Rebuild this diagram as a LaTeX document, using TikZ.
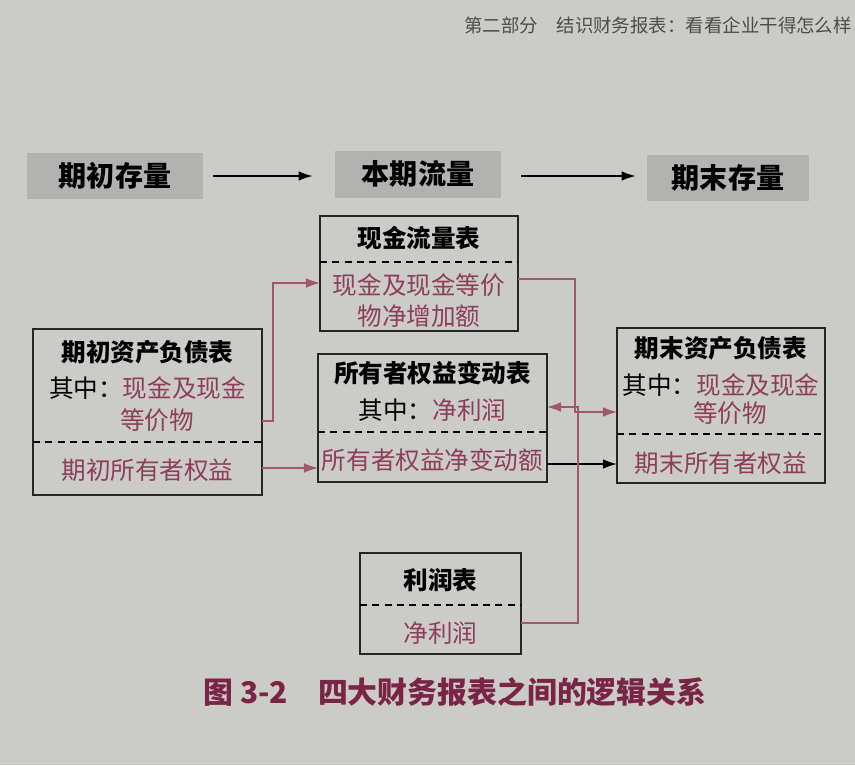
\documentclass[tikz,border=0pt]{standalone}
\usepackage{fontspec}
\setmainfont{Noto Sans CJK SC}
\usetikzlibrary{arrows.meta}

\definecolor{paper}{HTML}{CBCCC8}
\definecolor{stockgray}{HTML}{B2B3B0}
\definecolor{wine}{HTML}{8E3E5C}
\definecolor{winelink}{HTML}{A0586E}
\definecolor{capwine}{HTML}{7A2446}

\begin{document}
\begin{tikzpicture}
 [x=0.02cm, y=-0.02cm,
  stock node/.style={fill=stockgray, inner sep=0, font=\fontsize{16}{18}\selectfont\bfseries},
  table node/.style={draw=black!85, line width=0.8pt, inner sep=0, outer sep=0},
  title text/.style={font=\fontsize{14}{16}\selectfont\bfseries},
  body text/.style={font=\fontsize{14}{16}\selectfont, text=wine},
  plain text/.style={font=\fontsize{14}{16}\selectfont},
  divider/.style={dashed, line width=0.8pt, dash pattern=on 4pt off 3pt},
  link/.style={->, >={Latex[length=8pt,width=5.5pt]}, draw=winelink, line width=0.7pt},
  black link/.style={->, >={Latex[length=8pt,width=5.5pt]}, draw=black, line width=0.9pt}]

 % page
 \fill[paper] (0,0) rectangle (855,765);
 \useasboundingbox (0,0) rectangle (855,765);
 \node[anchor=east, font=\fontsize{10.5}{12}\selectfont, text=black!70] (head) at (858,25)
   {第二部分\quad 结识财务报表：看看企业干得怎么样};

 % stocks and flow
 \node[stock node, minimum width=3.52cm, minimum height=0.92cm] (begin) at (115,176) {期初存量};
 \node[stock node, minimum width=3.32cm, minimum height=0.94cm] (flow) at (418,174) {本期流量};
 \node[stock node, minimum width=3.24cm, minimum height=0.92cm] (end) at (728,178) {期末存量};

 \draw[black link, shorten <=0.2cm, shorten >=0.44cm] (begin.east |- 0,176) -- (flow.west |- 0,176);
 \draw[black link, shorten <=0.4cm, shorten >=0.22cm] (flow.east |- 0,176) -- (end.west |- 0,176);

 % cash flow statement
 \node[table node, minimum width=3.96cm, minimum height=2.30cm] (cf) at (419,273.5) {};
 \node[title text] (cftitle) at (419,238) {现金流量表};
 \node[body text] (cfbody) at (419,285) {现金及现金等价};
 \node[body text] (cfbody2) at (419,316) {物净增加额};
 \draw[divider] (cf.west |- 0,262) -- (cf.east |- 0,262);

 % opening balance sheet
 \node[table node, minimum width=4.58cm, minimum height=3.32cm] (obs) at (147.5,412) {};
 \node[title text] (obstitle) at (147.5,352) {期初资产负债表};
 \node[plain text] (obscash) at (147.5,388) {其中：\textcolor{wine}{现金及现金}};
 \node[body text] (obscash2) at (157,420) {等价物};
 \node[body text] (obseq) at (147.5,470) {期初所有者权益};
 \draw[divider] (obs.west |- 0,442) -- (obs.east |- 0,442);

 % statement of changes in equity
 \node[table node, minimum width=4.58cm, minimum height=2.56cm] (eq) at (432.5,418) {};
 \node[title text] (eqtitle) at (432.5,373) {所有者权益变动表};
 \node[plain text] (eqni) at (432.5,410) {其中：\textcolor{wine}{净利润}};
 \node[body text] (eqbody) at (432.5,460) {所有者权益净变动额};
 \draw[divider] (eq.west |- 0,432) -- (eq.east |- 0,432);

 % closing balance sheet
 \node[table node, minimum width=4.16cm, minimum height=3.10cm] (cbs) at (721,405.5) {};
 \node[title text] (cbstitle) at (721,348) {期末资产负债表};
 \node[plain text] (cbscash) at (721,385) {其中：\textcolor{wine}{现金及现金}};
 \node[body text] (cbscash2) at (730,413) {等价物};
 \node[body text] (cbseq) at (721,463) {期末所有者权益};
 \draw[divider] (cbs.west |- 0,434) -- (cbs.east |- 0,434);

 % income statement
 \node[table node, minimum width=3.22cm, minimum height=2.02cm] (pl) at (440.5,603.5) {};
 \node[title text] (pltitle) at (440.5,580) {利润表};
 \node[body text] (plni) at (440.5,633) {净利润};
 \draw[divider] (pl.west |- 0,605) -- (pl.east |- 0,605);

 % links
 \draw[link] (obs.east |- 0,421) -- ++(11,0) |- (cf.west |- 0,283);
 \draw[link] (obs.east |- 0,468) -- (eq.west |- 0,468);
 \draw[link] (cf.east |- 0,279) -- ++(57,0) |- (cbs.west |- 0,412);
 \draw[black link] (eq.east |- 0,464) -- (cbs.west |- 0,464);
 \draw[link] (pl.east |- 0,623) -- ++(57,0) |- (eq.east |- 0,407);

 % caption
 \node[font=\fontsize{17}{20}\selectfont\bfseries, text=capwine] (caption) at (455,692)
   {图 3-2\quad 四大财务报表之间的逻辑关系};
\end{tikzpicture}
\end{document}
